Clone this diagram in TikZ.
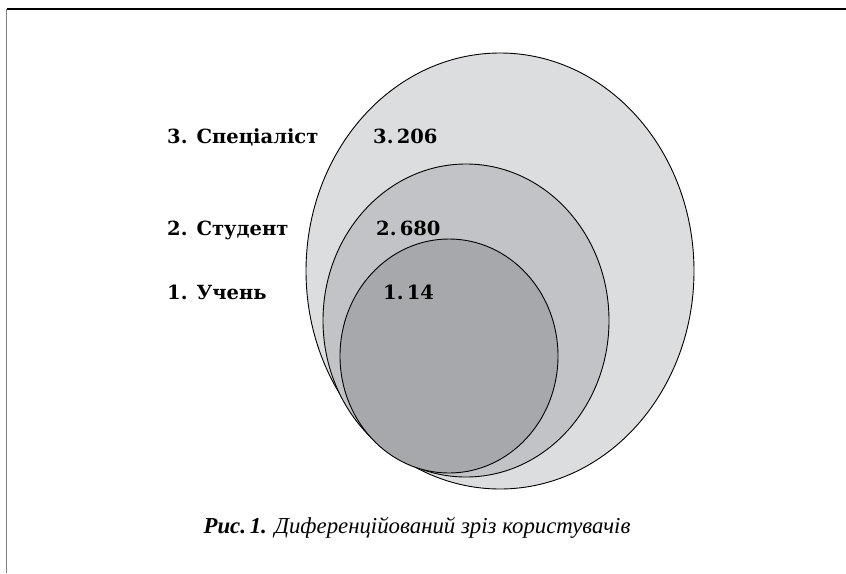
\documentclass[tikz,border=0pt]{standalone}
\usepackage{fontspec}
\setmainfont{DejaVu Serif}
\newfontfamily\capfont{Liberation Serif}
\usetikzlibrary{shapes.geometric}
\begin{document}
\begin{tikzpicture}[x=1pt,y=-1pt,
  circ/.style={ellipse, draw=black, line width=0.9pt, inner sep=0pt},
  lbl/.style={anchor=base west, inner sep=0pt, font=\fontsize{19.5}{22}\selectfont\bfseries},
  ]
\useasboundingbox (0,0) rectangle (846,573);
\coordinate (tl) at (6.5,9);
\coordinate (tr) at (846,9);
\coordinate (bl) at (6.5,573);
\draw[line width=1.2pt] (tl) -- (tr);
\draw[line width=1.3pt, gray] (tl) -- (bl);
\node[circ, fill={rgb,255:red,220;green,221;blue,223}, minimum width=388pt, minimum height=436pt] (outer) at (500,271) {};
\node[circ, fill={rgb,255:red,194;green,195;blue,198}, minimum width=286pt, minimum height=313pt] (middle) at (466,320.5) {};
\node[circ, fill={rgb,255:red,167;green,168;blue,171}, minimum width=218pt, minimum height=234pt] (inner) at (449,356) {};
\node[lbl] (l3) at (167,143) {3. Спеціаліст};
\node[lbl] (l2) at (167,235) {2. Студент};
\node[lbl] (l1) at (167,299) {1. Учень};
\node[lbl] (n3) at (373,143) {3.\,206};
\node[lbl] (n2) at (376,235) {2.\,680};
\node[lbl] (n1) at (383,299) {1.\,14};
\node[anchor=base, inner sep=0pt, font=\capfont\fontsize{22.8}{26}\selectfont\itshape] (cap) at (417,533) {\textbf{Рис.\,1.} Диференційований зріз користувачів};
\end{tikzpicture}
\end{document}
